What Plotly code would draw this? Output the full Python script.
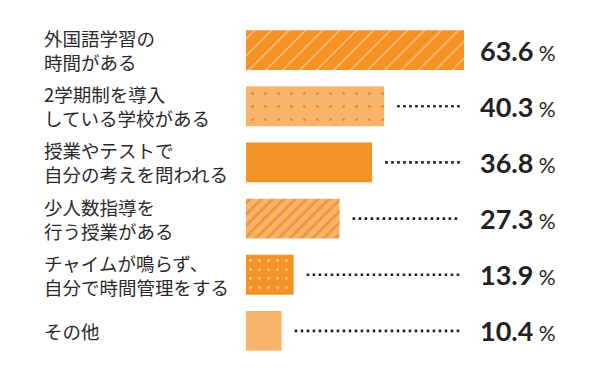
import plotly.graph_objects as go

labels = [
    "外国語学習の<br>時間がある",
    "2学期制を導入<br>している学校がある",
    "授業やテストで<br>自分の考えを問われる",
    "少人数指導を<br>行う授業がある",
    "チャイムが鳴らず、<br>自分で時間管理をする",
    "その他",
]
values = [63.6, 40.3, 36.8, 27.3, 13.9, 10.4]

DARK = "#F39325"
LIGHT = "#F8B46B"
bar_colors = [DARK, LIGHT, DARK, LIGHT, DARK, LIGHT]
pat_shapes = ["/", ".", "", "/", ".", ""]
pat_fg = ["#F9C283", "#E98A2C", DARK, "#EE9636", "#FAC98E", LIGHT]
pat_size = [12, 13, 8, 8, 9, 8]
pat_solid = [0.12, 0.04, 0.2, 0.35, 0.08, 0.2]

PX_PER_UNIT = 218 / 63.6
L_MARGIN = 246
PLOT_W = 600 - L_MARGIN
XMAX = PLOT_W / PX_PER_UNIT

def px_to_x(px):
    return (px - L_MARGIN) / PX_PER_UNIT

rows = list(range(len(values)))

fig = go.Figure()
for r, v in zip(rows, values):
    fig.add_trace(go.Bar(
        x=[v], y=[r], orientation="h", width=0.71,
        marker=dict(
            color=bar_colors[r],
            line=dict(width=0),
            pattern=dict(shape=pat_shapes[r], fgcolor=pat_fg[r], bgcolor=bar_colors[r],
                         fgopacity=1, size=pat_size[r], solidity=pat_solid[r],
                         fillmode="replace"),
        ),
        hoverinfo="skip",
    ))

# dotted leader lines
lead_end = px_to_x(460)
gap = 13 / PX_PER_UNIT
lx, ly = [], []
for r, v in zip(rows, values):
    if v + gap < lead_end - 1:
        lx += [v + gap, lead_end, None]
        ly += [r, r, None]
fig.add_trace(go.Scatter(x=lx, y=ly, mode="lines",
                         line=dict(color="#222222", width=2.6, dash="2.6px,3.4px"),
                         hoverinfo="skip"))

for r, (lab, v) in enumerate(zip(labels, values)):
    fig.add_annotation(
        x=(42 - L_MARGIN) / PLOT_W, xref="paper", y=r, yref="y",
        xanchor="left", align="left", showarrow=False, text=lab,
        font=dict(family="Noto Sans CJK JP", size=18.5, color="#2a2a2a"),
    )
    fig.add_annotation(
        x=px_to_x(558), xref="x", y=r, yref="y", xanchor="right", yanchor="middle",
        showarrow=False,
        text=f"<b>{v:.1f}</b><span style='font-size:21px;font-weight:normal'> %</span>",
        font=dict(family="Lato", size=27, color="#222222"),
    )

fig.update_layout(
    width=600, height=381,
    margin=dict(l=L_MARGIN, r=0, t=22, b=22),
    paper_bgcolor="white", plot_bgcolor="white",
    showlegend=False, barmode="overlay",
    xaxis=dict(range=[0, XMAX], visible=False, fixedrange=True),
    yaxis=dict(range=[5.5, -0.5], visible=False, fixedrange=True),
)

fig.write_html("out.html", post_script="document.body.style.margin='0';",
               config={"displayModeBar": False})
